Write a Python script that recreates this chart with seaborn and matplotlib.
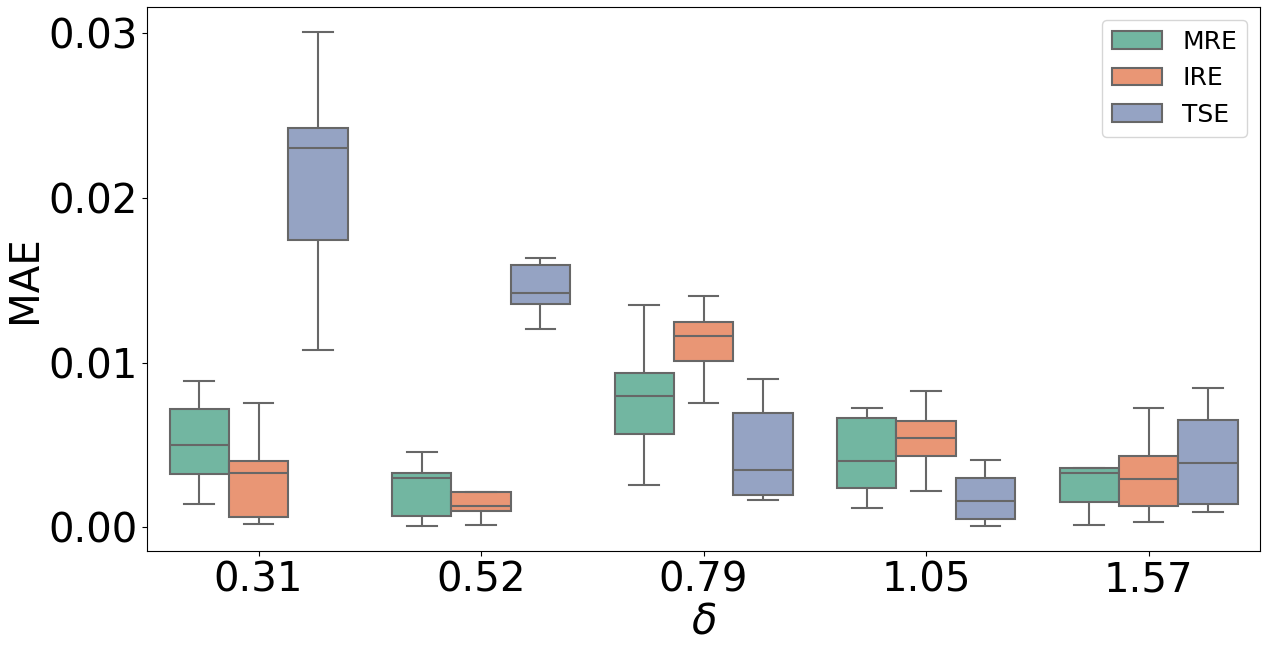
import seaborn as sns
import pandas as pd
import matplotlib.pyplot as plt

# delta values on the x axis and the three methods in the legend
deltas = ['0.31', '0.52', '0.79', '1.05', '1.57']
methods = ['MRE', 'IRE', 'TSE']
y_ticks = [0.00, 0.01, 0.02, 0.03]

# five-number summary per box (min, q1, median, q3, max), one row per delta
mre = [[0.00141, 0.00323, 0.00499, 0.00718, 0.00886],
       [0.00007, 0.00069, 0.00300, 0.00332, 0.00456],
       [0.00255, 0.00566, 0.00796, 0.00939, 0.01353],
       [0.00117, 0.00238, 0.00402, 0.00667, 0.00723],
       [0.00012, 0.00152, 0.00329, 0.00358, 0.00358]]
ire = [[0.00020, 0.00063, 0.00328, 0.00406, 0.00753],
       [0.00013, 0.00098, 0.00128, 0.00217, 0.00217],
       [0.00758, 0.01008, 0.01159, 0.01244, 0.01402],
       [0.00220, 0.00432, 0.00545, 0.00648, 0.00830],
       [0.00030, 0.00129, 0.00293, 0.00436, 0.00723]]
tse = [[0.01077, 0.01745, 0.02305, 0.02425, 0.03008],
       [0.01205, 0.01357, 0.01422, 0.01591, 0.01634],
       [0.00166, 0.00194, 0.00347, 0.00697, 0.00899],
       [0.00008, 0.00051, 0.00158, 0.00303, 0.00412],
       [0.00091, 0.00145, 0.00390, 0.00655, 0.00844]]

# long-form table for seaborn
rows = []
for name, summary in zip(methods, [mre, ire, tse]):
    for d, vals in zip(deltas, summary):
        for v in vals:
            rows.append({'delta': d, 'method': name, 'MAE': v})
df = pd.DataFrame(rows)

fig, ax = plt.subplots(figsize=(12.7, 6.49), dpi=100)
sns.boxplot(data=df, x='delta', y='MAE', hue='method', order=deltas,
            hue_order=methods, palette='Set2', whis=(0, 100),
            linewidth=1.5, linecolor='#676767', ax=ax)

ax.set_yticks(y_ticks)
ax.set_yticklabels([f'{t:.2f}' for t in y_ticks])
ax.set_xlabel(r'$\delta$', fontsize=30, labelpad=0)
ax.set_ylabel('MAE', fontsize=29, labelpad=2)
ax.tick_params(axis='both', labelsize=29)
ax.legend(loc='upper right', fontsize=18)

fig.subplots_adjust(left=0.116, right=0.992, top=0.989, bottom=0.151)
fig.savefig('out.png', dpi=100)
